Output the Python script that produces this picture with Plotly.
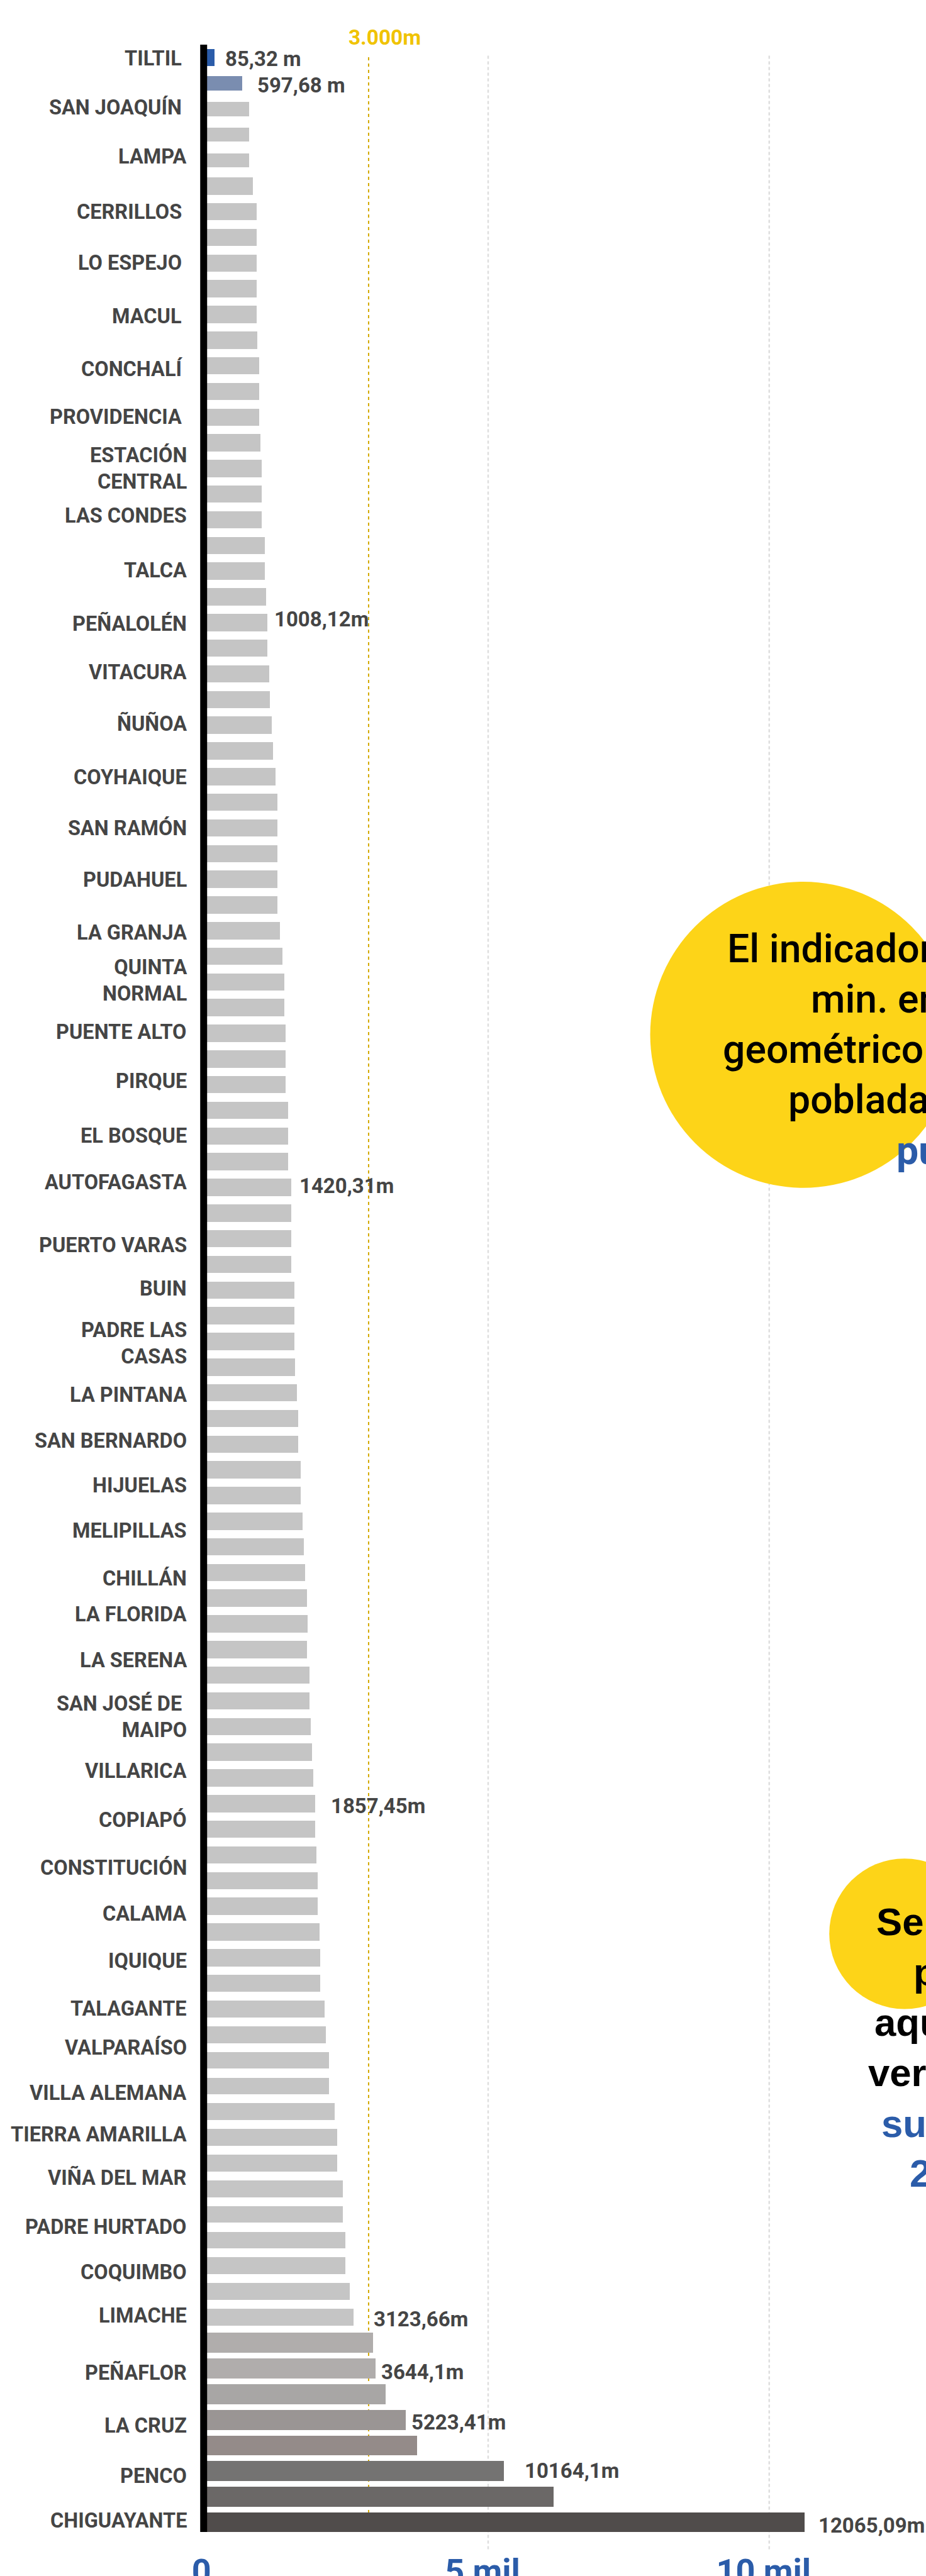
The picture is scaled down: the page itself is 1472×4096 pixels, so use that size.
import plotly.graph_objects as go

# ---------------- data ----------------
bar_values = [
    131, 625, 746, 746, 746, 812, 877, 877, 877, 877,
    877, 896, 924, 924, 924, 951, 970, 970, 970, 1026,
    1026, 1045, 1073, 1073, 1101, 1119, 1147, 1175, 1222, 1250,
    1250, 1250, 1250, 1250, 1297, 1343, 1371, 1371, 1399, 1399,
    1399, 1446, 1446, 1446, 1493, 1493, 1493, 1493, 1549, 1549,
    1549, 1567, 1595, 1623, 1623, 1670, 1670, 1698, 1716, 1744,
    1772, 1791, 1772, 1819, 1819, 1847, 1866, 1894, 1922, 1922,
    1940, 1968, 1968, 1996, 2015, 2015, 2090, 2118, 2164, 2164,
    2267, 2313, 2313, 2416, 2416, 2463, 2463, 2537, 2603, 2957,
    2994, 3181, 3535, 3731, 5280, 6166, 10625,
]

category_labels = [
    "TILTIL\u00a0", "SAN JOAQUÍN\u00a0", "LAMPA", "CERRILLOS\u00a0", "LO ESPEJO\u00a0",
    "MACUL\u00a0", "CONCHALÍ\u00a0", "PROVIDENCIA\u00a0", "ESTACIÓN<br>CENTRAL", "LAS CONDES",
    "TALCA", "PEÑALOLÉN", "VITACURA", "ÑUÑOA", "COYHAIQUE",
    "SAN RAMÓN", "PUDAHUEL", "LA GRANJA", "QUINTA<br>NORMAL", "PUENTE ALTO",
    "PIRQUE", "EL BOSQUE", "AUTOFAGASTA", "PUERTO VARAS", "BUIN",
    "PADRE LAS<br>CASAS", "LA PINTANA", "SAN BERNARDO", "HIJUELAS", "MELIPILLAS",
    "CHILLÁN", "LA FLORIDA", "LA SERENA", "SAN JOSÉ DE\u00a0<br>MAIPO", "VILLARICA",
    "COPIAPÓ", "CONSTITUCIÓN", "CALAMA", "IQUIQUE", "TALAGANTE",
    "VALPARAÍSO", "VILLA ALEMANA", "TIERRA AMARILLA", "VIÑA DEL MAR", "PADRE HURTADO",
    "COQUIMBO", "LIMACHE", "PEÑAFLOR", "LA CRUZ", "PENCO",
    "CHIGUAYANTE",
]
# position of each category label, in bar-row units (row 0 = top bar)
category_rows = [
    0.04, 1.94, 3.86, 6.02, 8.0, 10.07, 12.13, 13.99, 15.99, 17.84,
    19.97, 22.03, 23.95, 25.95, 28.03, 29.99, 32.01, 34.08, 35.93, 37.95,
    39.85, 41.98, 43.81, 46.26, 47.94, 50.08, 52.08, 53.88, 55.6, 57.37,
    59.23, 60.64, 62.43, 64.62, 66.74, 68.62, 70.5, 72.29, 74.13, 75.99,
    77.5, 79.26, 80.89, 82.57, 84.48, 86.24, 87.93, 90.18, 92.22, 94.18,
    95.92,
]

value_label_text = ["85,32 m", "597,68 m", "1008,12m", "1420,31m", "1857,45m",
                    "3123,66m", "3644,1m", "5223,41m", "10164,1m", "12065,09m"]
value_label_bar = [0, 1, 22, 44, 68, 88, 90, 92, 94, 96]

tick_vals = [0, 5000, 10000]
tick_text = ["0", "5 mil", "10 mil"]

ref_line_value = 2873
ref_line_text = "3.000m"

bubble1_lines = ["El indicador mide los", "min. en caminata desde el centro",
                 "geométrico de cada manzana", "poblada hasta el espacio",
                 "público más cercano"]
bubble2_lines = ["Se consideran", "plazas y parques", "aquellas áreas",
                 "verdes con una", "superficie mayor a", "2.000 m²"]

# ---------------- styles / layout geometry ----------------
SC = 1472 / 1766
FIG_W, FIG_H = 1472, 4096
ML, MR, MT, MB = 310, 0, 71, 70
PW = FIG_W - ML - MR
PH = FIG_H - MT - MB

ZERO_PX = 395 * SC
PX_PER_M = 0.1072 * SC
ROW0_PX = 110 * SC
ROW_STEP = 48.98 * SC


def xval(px):
    return (px - ZERO_PX) / PX_PER_M


def yrow(py):
    return (py - ROW0_PX) / ROW_STEP


def xp(px):
    return (px - ML) / PW


def yp(py):
    return 1 - (py - MT) / PH


n = len(bar_values)
thick_full = [33] + [27] * 4 + [33] * 73 + [32] * 11 + [38] * 8
bar_widths = [t / 48.98 for t in thick_full]
bar_colors = (["#2b5ca9", "#7a8db0"] + ["#c5c5c5"] * 87 +
              ["#b0adac", "#b0adac", "#a8a6a5", "#9a9594", "#948b89",
               "#747372", "#6b6867", "#504c4b"])

BLUE = "#2b5ca9"
LABEL_GREY = "#454545"
YELLOW = "#fdd418"

fig = go.Figure()
fig.add_trace(go.Bar(
    x=bar_values, y=list(range(n)), orientation="h",
    width=bar_widths, marker=dict(color=bar_colors, line=dict(width=0)),
    hoverinfo="skip", showlegend=False,
))

shapes = []
# dashed grid lines at the labelled ticks (except zero)
for tv in tick_vals[1:]:
    shapes.append(dict(type="line", xref="x", yref="paper", x0=tv, x1=tv,
                       y0=yp(4863 * SC), y1=yp(105 * SC), layer="below",
                       line=dict(color="#dedede", width=2.5, dash="5px,4px")))
# 3.000m reference line
shapes.append(dict(type="line", xref="x", yref="paper", x0=ref_line_value, x1=ref_line_value,
                   y0=0, y1=yp(105 * SC), layer="below",
                   line=dict(color="#d4a900", width=2, dash="5px,5px")))
# thick black baseline
shapes.append(dict(type="rect", xref="x", xsizemode="pixel", xanchor=0, x0=-11, x1=0,
                   yref="paper", y0=0, y1=1, fillcolor="#000000", line=dict(width=0),
                   layer="above"))


def circle(cx, cy, r):
    return dict(type="circle", xref="paper", yref="paper",
                x0=xp(cx - r), x1=xp(cx + r), y0=yp(cy + r), y1=yp(cy - r),
                fillcolor=YELLOW, line=dict(width=0), layer="above")


shapes.append(circle(1532 * SC, 1974 * SC, 292 * SC))
shapes.append(circle(1725 * SC, 3689 * SC, 143.5 * SC))

annotations = []
cat_font = dict(family="Roboto", size=32.5, color=LABEL_GREY, weight=700)
for txt, row in zip(category_labels, category_rows):
    annotations.append(dict(text=txt, xref="paper", x=xp(359 * SC), xanchor="right",
                            yref="y", y=row, yanchor="middle", align="right",
                            showarrow=False, font=cat_font))

val_gap_full = [19, 27, 12, 15, 29, 37, 10, 9, 38, 26]
val_dy_full = [2, 4, -7, -3, 4, 4, 7, 4, -1, 5]
val_font = dict(family="Roboto", size=33, color=LABEL_GREY, weight=700)
for txt, b, g, dy in zip(value_label_text, value_label_bar, val_gap_full, val_dy_full):
    annotations.append(dict(text=txt, xref="x", x=bar_values[b], xanchor="left",
                            xshift=g * SC - 1, yref="y", y=b, yshift=-dy * SC,
                            yanchor="middle", showarrow=False, font=val_font))

annotations.append(dict(text=ref_line_text, xref="paper", x=xp(733.5 * SC), xanchor="center",
                        yref="paper", y=yp((84.5 - 0.342 * 40) * SC), yanchor="middle",
                        showarrow=False,
                        font=dict(family="Roboto", size=40 * SC, color="#f0c300", weight=700)))

# bubble 1 text (left x, baseline y in reference pixels)
b1_pos = [(1384, 1835), (1544, 1931), (1376, 2027), (1501, 2123), (1707, 2221)]
fs1 = 75
for i, (txt, (lx, base)) in enumerate(zip(bubble1_lines, b1_pos)):
    last = i == len(bubble1_lines) - 1
    annotations.append(dict(
        text=txt, xref="paper", x=xp(lx * SC), xanchor="left",
        yref="paper", y=yp((base - 0.342 * fs1) * SC), yanchor="middle",
        showarrow=False, align="left",
        font=dict(family="Roboto", size=fs1 * SC, color=BLUE if last else "#000000",
                  weight=700 if last else 500)))

b2_pos = [(1669, 3691), (1740, 3788), (1665, 3883), (1653, 3979), (1679, 4076), (1732, 4171)]
fs2 = 74
for i, (txt, (lx, base)) in enumerate(zip(bubble2_lines, b2_pos)):
    blue = i >= 4
    annotations.append(dict(
        text=txt, xref="paper", x=xp(lx * SC), xanchor="left",
        yref="paper", y=yp((base - 0.347 * fs2) * SC), yanchor="middle",
        showarrow=False, align="left",
        font=dict(family="Liberation Sans", size=fs2 * SC, color=BLUE if blue else "#000000",
                  weight=700)))

fig.update_layout(
    width=FIG_W, height=FIG_H,
    margin=dict(l=ML, r=MR, t=MT, b=MB, pad=0, autoexpand=False),
    paper_bgcolor="white", plot_bgcolor="white",
    showlegend=False, bargap=0,
    shapes=shapes, annotations=annotations,
    xaxis=dict(range=[xval(ML), xval(FIG_W)], tickvals=tick_vals, ticktext=tick_text,
               showgrid=False, zeroline=False, showline=False, ticks="",
               tickfont=dict(family="Roboto", size=54, color=BLUE, weight=700),
               ticklabelstandoff=26, ticklabelshift=-9, automargin=False, fixedrange=True),
    yaxis=dict(range=[yrow(MT + PH), yrow(MT)], showticklabels=False, showgrid=False,
               zeroline=False, showline=False, ticks="", automargin=False, fixedrange=True),
)

fig.write_html("out.html", include_plotlyjs=True, full_html=True,
               config={"displayModeBar": False},
               post_script="document.body.style.margin='0';document.body.style.overflow='hidden';")
